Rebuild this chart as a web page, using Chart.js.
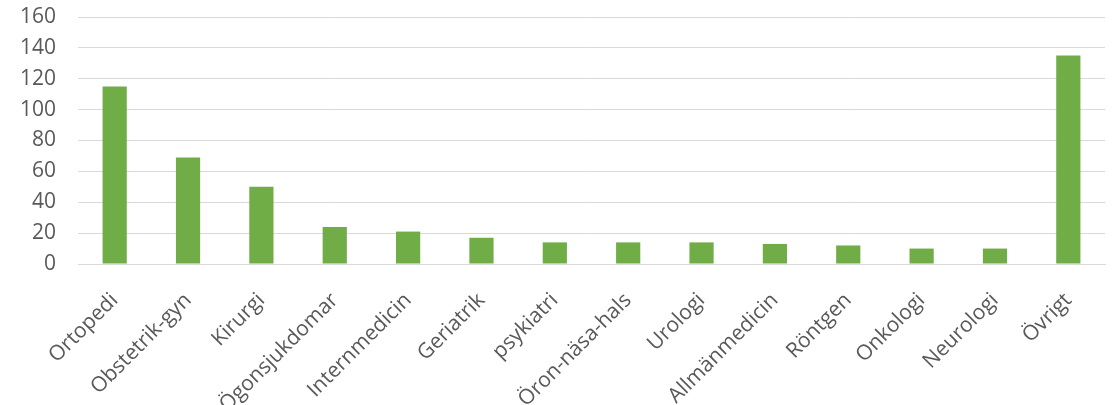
<!DOCTYPE html>
<html>
<head>
<meta charset="utf-8">
<script src="https://cdn.jsdelivr.net/npm/chart.js@4/dist/chart.umd.min.js"></script>
<style>
  html, body { margin:0; padding:0; background:#fff; }
  #wrap { width:1115px; height:405px; }
</style>
</head>
<body>
<div id="wrap"><canvas id="chartKlinik" width="1115" height="405"></canvas></div>
<script>
const categories = ["Ortopedi","Obstetrik-gyn","Kirurgi","Ögonsjukdomar","Internmedicin","Geriatrik","psykiatri","Öron-näsa-hals","Urologi","Allmänmedicin","Röntgen","Onkologi","Neurologi","Övrigt"];
const antal = [115, 69, 50, 24, 21, 17, 14, 14, 14, 13, 12, 10, 10, 135];
const yTicks = [0, 20, 40, 60, 80, 100, 120, 140, 160];

const C = { bar:"#70AD47", grid:"#D9D9D9", text:"#595959" };
const FONT = { family:"'Open Sans', 'DejaVu Sans', sans-serif", size:21 };

new Chart(document.getElementById("chartKlinik"), {
  type:"bar",
  data:{ labels:categories, datasets:[{ data:antal, backgroundColor:C.bar, categoryPercentage:1, barPercentage:0.33 }] },
  options:{
    responsive:false, animation:false,
    layout:{ padding:{ left:0, right:10, top:17, bottom:0 } },
    plugins:{ legend:{ display:false }, tooltip:{ enabled:false } },
    scales:{
      x:{
        afterFit:(ax)=>{ ax.height = 141; ax.paddingTop = 0; ax.paddingBottom = 0; },
        grid:{ display:false },
        border:{ display:true, color:C.grid, width:1 },
        ticks:{ color:C.text, font:FONT, maxRotation:45, minRotation:45, autoSkip:false, padding:16 }
      },
      y:{
        min:0, max:160,
        afterBuildTicks:(ax)=>{ ax.ticks = yTicks.map(v=>({ value:v })); },
        afterFit:(ax)=>{ ax.width = 78; ax.paddingTop = 0; ax.paddingBottom = 0; },
        grid:{ color:C.grid, lineWidth:1, drawTicks:false },
        border:{ display:false },
        ticks:{ color:C.text, font:FONT, padding:22 }
      }
    }
  }
});
</script>
</body>
</html>
